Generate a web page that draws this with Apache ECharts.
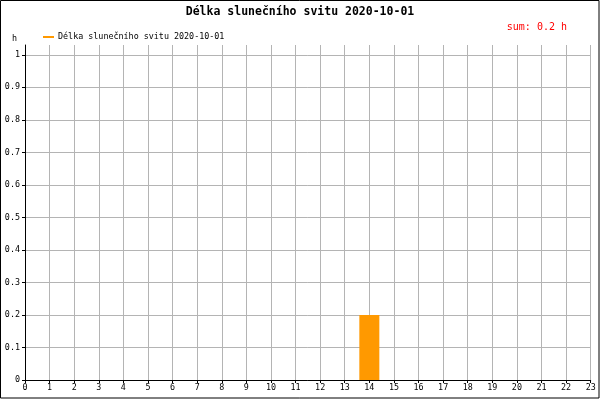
<!DOCTYPE html>
<html><head><meta charset="utf-8">
<script src="https://cdn.jsdelivr.net/npm/echarts@6/dist/echarts.min.js"></script>
<style>html,body{margin:0;padding:0;background:#fff}#c{width:600px;height:400px}</style>
</head><body><div id="c"></div>
<script>
const titleText = 'Délka slunečního svitu 2020-10-01';
const seriesName = 'Délka slunečního svitu 2020-10-01';
const hours = [14];
const values = [0.2];
const sumText = 'sum: 0.2 h';
const yUnit = 'h';

const F = '"DejaVu Sans Mono", monospace';
const chart = echarts.init(document.getElementById('c'), null, {renderer: 'canvas'});
chart.setOption({
  animation: false,
  backgroundColor: '#fff',
  title: [{
    text: titleText, left: 'center', top: 1,
    textStyle: {fontFamily: F, fontSize: 11.5, fontWeight: 'bold', color: '#000'}
  }, {
    text: sumText, right: 28, top: 17,
    textStyle: {fontFamily: F, fontSize: 10, fontWeight: 'normal', color: '#ff0000'}
  }],
  legend: {
    left: 38, top: 28, itemWidth: 11, itemHeight: 2, itemGap: 5,
    icon: 'rect',
    textStyle: {fontFamily: F, fontSize: 8.4, color: '#000', padding: [0,0,0,-1]},
    data: [{name: seriesName}]
  },
  grid: {left: 25, right: 9.3, top: 45, bottom: 20, containLabel: false},
  xAxis: {
    type: 'value', min: 0, max: 23, interval: 1,
    axisLine: {show: true, lineStyle: {color: '#000', width: 1}},
    axisTick: {show: true, length: 3, lineStyle: {color: '#000'}},
    axisLabel: {fontFamily: F, fontSize: 8.4, color: '#000', margin: 4},
    splitLine: {show: true, lineStyle: {color: '#b4b4b4', width: 1}}
  },
  yAxis: {
    type: 'value', min: 0, max: 1.03, interval: 0.1,
    name: yUnit, nameLocation: 'end', nameGap: 2,
    nameTextStyle: {fontFamily: F, fontSize: 8.4, color: '#000', align: 'right', padding: [0, 8, 0, 0]},
    axisLine: {show: true, lineStyle: {color: '#000', width: 1}},
    axisTick: {show: true, length: 3, lineStyle: {color: '#000'}},
    axisLabel: {fontFamily: F, fontSize: 8.4, color: '#000', margin: 5, showMaxLabel: false,
      formatter: v => Math.abs(v * 10 - Math.round(v * 10)) < 1e-6 ? String(Math.round(v * 10) / 10) : ''},
    splitLine: {show: true, showMaxLine: false, lineStyle: {color: '#b4b4b4', width: 1}}
  },
  series: [{
    name: seriesName, type: 'bar', barWidth: 20,
    itemStyle: {color: '#ff9900'},
    data: hours.map((h, i) => [h, values[i]])
  }],
  graphic: [{
    type: 'rect', shape: {x: 0.5, y: 0.5, width: 598.5, height: 397.5},
    style: {fill: null, stroke: '#000', lineWidth: 1}, silent: true
  }]
});
</script></body></html>
